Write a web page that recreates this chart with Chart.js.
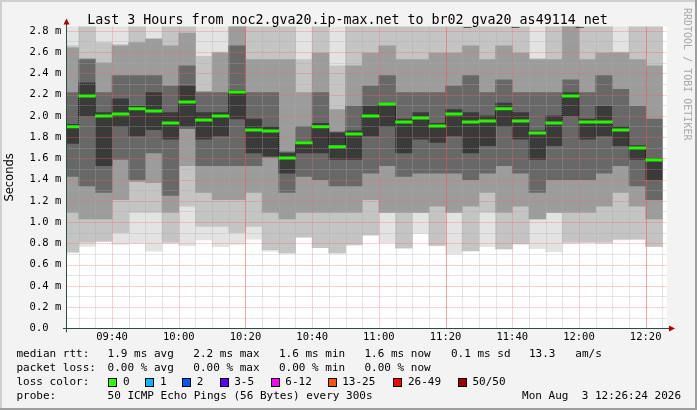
<!DOCTYPE html>
<html>
<head>
<meta charset="utf-8">
<script src="https://cdn.jsdelivr.net/npm/chart.js@4.4.1/dist/chart.umd.min.js"></script>
<style>
  html, body { margin: 0; padding: 0; background: #f3f3f3; }
  #wrap { width: 697px; height: 410px; }
</style>
</head>
<body>
<div id="wrap"><canvas id="smokeChart" width="697" height="410"></canvas></div>
<script>
// end time of each 5 minute step (300s)
const times = ['09:30','09:35','09:40','09:45','09:50','09:55','10:00','10:05','10:10','10:15','10:20','10:25',
               '10:30','10:35','10:40','10:45','10:50','10:55','11:00','11:05','11:10','11:15','11:20','11:25',
               '11:30','11:35','11:40','11:45','11:50','11:55','12:00','12:05','12:10','12:15','12:20','12:25'];

// median rtt per step (ms)
const median = [1.897, 2.186, 1.998, 2.017, 2.067, 2.045, 1.932, 2.130, 1.960, 1.998, 2.224, 1.866,
                1.857, 1.603, 1.747, 1.897, 1.709, 1.829, 1.998, 2.111, 1.942, 1.980, 1.904, 2.017,
                1.942, 1.951, 2.067, 1.951, 1.838, 1.932, 2.186, 1.942, 1.942, 1.866, 1.697, 1.584];

// smoke: spread of the 50 pings, outer to inner (ms)
const minRtt = [0.71, 0.77, 0.815, 0.79, 0.80, 0.727, 0.80, 0.777, 0.831, 0.768, 0.79, 0.84,
                0.727, 0.706, 0.853, 0.759, 0.706, 0.781, 0.875, 0.806, 0.75, 0.894, 0.775, 0.70,
                0.727, 0.768, 0.743, 0.79, 0.75, 0.718, 0.80, 0.806, 0.80, 0.831, 0.837, 0.768];
const maxRtt = [3.2, 3.2, 3.2, 3.2, 3.2, 3.2, 3.2, 3.2, 3.2, 3.2, 3.2, 3.2,
                3.2, 3.2, 3.2, 3.2, 3.2, 3.2, 3.2, 3.2, 3.2, 3.2, 3.2, 3.2,
                3.2, 3.2, 3.2, 3.2, 3.2, 3.2, 3.2, 3.2, 3.2, 3.2, 3.2, 3.2];
const loB = [0.72, 0.81, 0.82, 0.90, 1.09, 1.09, 0.81, 1.15, 0.96, 0.96, 0.90, 0.96,
             0.74, 0.71, 0.86, 0.76, 0.71, 0.79, 0.88, 1.09, 0.76, 1.09, 0.78, 1.09,
             0.73, 1.09, 0.75, 0.80, 1.03, 1.09, 0.81, 0.81, 0.81, 0.84, 0.84, 0.77];
const hiB = [2.66, 3.0, 2.69, 2.67, 3.0, 2.73, 3.0, 3.0, 2.56, 2.60, 3.0, 3.0,
             3.0, 3.0, 2.53, 3.0, 2.47, 3.0, 3.0, 3.0, 3.0, 3.0, 3.0, 3.0,
             3.0, 3.0, 3.0, 3.0, 2.54, 3.0, 3.0, 3.0, 3.0, 2.60, 3.0, 3.0];
const loC = [1.09, 1.03, 1.03, 1.21, 1.38, 1.37, 1.09, 1.53, 1.28, 1.21, 1.21, 1.28,
             1.09, 1.03, 1.09, 1.09, 1.09, 1.09, 1.21, 1.09, 1.09, 1.09, 1.15, 1.09,
             1.15, 1.28, 1.09, 1.15, 1.03, 1.09, 1.09, 1.09, 1.15, 1.28, 1.15, 1.03];
const hiC = [2.64, 2.54, 2.50, 2.66, 2.69, 2.72, 2.66, 2.78, 2.23, 2.59, 3.0, 2.53,
             2.53, 2.53, 2.22, 2.59, 2.06, 2.47, 2.59, 2.66, 2.53, 2.53, 2.59, 2.59,
             2.66, 2.53, 2.66, 2.59, 2.53, 2.53, 3.0, 2.53, 2.59, 2.59, 2.53, 2.47];
const loD = [1.43, 1.34, 1.28, 1.59, 1.40, 1.65, 1.25, 1.88, 1.53, 1.53, 1.53, 1.53,
             1.61, 1.28, 1.43, 1.40, 1.34, 1.34, 1.46, 1.53, 1.43, 1.46, 1.46, 1.46,
             1.40, 1.46, 1.53, 1.46, 1.28, 1.40, 1.40, 1.40, 1.46, 1.53, 1.34, 1.21];
const hiD = [2.22, 2.53, 2.22, 2.38, 2.38, 2.38, 2.28, 2.47, 2.22, 2.22, 2.66, 2.22,
             2.22, 1.66, 1.90, 2.22, 1.85, 2.09, 2.28, 2.38, 2.22, 2.22, 2.22, 2.28,
             2.38, 2.22, 2.34, 2.22, 2.22, 2.22, 2.34, 2.22, 2.38, 2.25, 2.09, 1.97];
const loF = [1.74, 2.00, 1.53, 1.90, 1.81, 1.87, 1.78, 1.90, 1.78, 1.81, 1.97, 1.65,
             1.62, 1.46, 1.65, 1.65, 1.59, 1.59, 1.81, 1.90, 1.65, 1.78, 1.75, 1.81,
             1.65, 1.72, 1.90, 1.78, 1.59, 1.72, 2.00, 1.78, 1.81, 1.72, 1.59, 1.40];
const hiF = [1.92, 2.31, 2.03, 2.16, 2.09, 2.22, 2.03, 2.28, 2.03, 2.03, 2.24, 1.97,
             1.90, 1.65, 1.76, 1.93, 1.84, 1.86, 2.09, 2.12, 1.97, 2.03, 1.93, 2.06,
             2.03, 2.00, 2.12, 2.03, 1.86, 2.00, 2.22, 1.97, 2.09, 1.90, 1.72, 1.60];

// axes
const rangeStart = '09:26:24';
const rangeEnd = '12:26:24';
const xTickLabels = ['09:40','10:00','10:20','10:40','11:00','11:20','11:40','12:00','12:20'];
const hourRules = ['10:20','11:20','12:20'];
const yTickValues = [0, 0.2, 0.4, 0.6, 0.8, 1.0, 1.2, 1.4, 1.6, 1.8, 2.0, 2.2, 2.4, 2.6, 2.8];
const yTickLabels = ['0.0  ','0.2 m','0.4 m','0.6 m','0.8 m','1.0 m','1.2 m','1.4 m','1.6 m','1.8 m',
                     '2.0 m','2.2 m','2.4 m','2.6 m','2.8 m'];

// legend texts
const titleText = 'Last 3 Hours from noc2.gva20.ip-max.net to br02_gva20_as49114_net';
const rttStats = ['1.9 ms avg', '2.2 ms max', '1.6 ms min', '1.6 ms now', '0.1 ms sd', '13.3   am/s'];
const lossStats = ['0.00 % avg', '0.00 % max', '0.00 % min', '0.00 % now'];
const lossLabels = ['0', '1', '2', '3-5', '6-12', '13-25', '26-49', '50/50'];
const lossColors = ['#26ff00', '#00b8ff', '#0059ff', '#5e00ff', '#ff00ff', '#ff5500', '#ff0000', '#a10000'];
const probeText = '50 ICMP Echo Pings (56 Bytes) every 300s';
const stampText = 'Mon Aug  3 12:26:24 2026';

const MONO = '"DejaVu Sans Mono", monospace';

// minutes after 09:00
const toMin = s => {
    const p = s.split(':').map(Number);
    return (p[0] - 9) * 60 + p[1] + (p[2] || 0) / 60;
};
const centers = times.map(t => toMin(t) - 2.5);

// smoke bands, widest (lightest) first
const bands = [
    { lo: minRtt, hi: maxRtt, color: '#e3e3e3' },
    { lo: loB, hi: hiB, color: '#c4c4c4' },
    { lo: loC, hi: hiC, color: '#9c9c9c' },
    { lo: loD, hi: hiD, color: '#686868' },
    { lo: loF, hi: hiF, color: '#3a3a3a' }
];

const datasets = bands.map((b, i) => ({
    type: 'bar',
    data: centers.map((x, k) => ({ x: x, y: [b.lo[k], b.hi[k]] })),
    backgroundColor: b.color,
    borderWidth: 0,
    grouped: false,
    barPercentage: 1,
    categoryPercentage: 1,
    order: 10 - i
}));

// dotted step connecting the medians
datasets.push({
    type: 'line',
    data: centers.map((x, k) => ({ x: x, y: median[k] })),
    stepped: 'middle',
    borderColor: '#111',
    borderWidth: 1,
    borderDash: [1, 1],
    pointRadius: 0,
    order: 1
});
const CONNECTOR = datasets.length - 1;

// green median segments
datasets.push({
    type: 'bar',
    data: centers.map((x, k) => ({ x: x, y: [median[k] - 0.011, median[k] + 0.011] })),
    backgroundColor: '#26f500',
    borderWidth: 0,
    grouped: false,
    barPercentage: 1,
    categoryPercentage: 1,
    order: 0
});

// background, frame and white canvas
const framePlugin = {
    id: 'frame',
    beforeDraw(chart) {
        const { ctx, chartArea: a } = chart;
        ctx.save();
        ctx.fillStyle = '#f3f3f3';
        ctx.fillRect(0, 0, 697, 410);
        ctx.fillStyle = '#cfcfcf';
        ctx.fillRect(0, 0, 697, 2);
        ctx.fillRect(0, 0, 2, 410);
        ctx.fillStyle = '#9e9e9e';
        ctx.fillRect(0, 408, 697, 2);
        ctx.fillRect(695, 0, 2, 410);
        ctx.fillStyle = '#ffffff';
        ctx.fillRect(a.left, a.top, a.right - a.left, a.bottom - a.top);
        ctx.restore();
    }
};

// grid goes over the smoke but under the median
const gridPlugin = {
    id: 'smokeGrid',
    beforeDatasetDraw(chart, args) {
        if (args.index !== CONNECTOR) return;
        const { ctx, chartArea: a, scales: { x, y } } = chart;
        ctx.save();
        ctx.beginPath();
        ctx.rect(a.left, a.top, a.right - a.left, a.bottom - a.top);
        ctx.clip();
        ctx.lineWidth = 1;
        ctx.setLineDash([1, 1]);
        const hLine = (v, color) => {
            const py = Math.round(y.getPixelForValue(v)) + 0.5;
            ctx.strokeStyle = color;
            ctx.beginPath(); ctx.moveTo(a.left, py); ctx.lineTo(a.right, py); ctx.stroke();
        };
        const vLine = (m, color) => {
            const px = Math.round(x.getPixelForValue(m)) + 0.5;
            ctx.strokeStyle = color;
            ctx.beginPath(); ctx.moveTo(px, a.top); ctx.lineTo(px, a.bottom); ctx.stroke();
        };
        for (let k = 1; k <= 28; k += 2) hLine(k / 10, 'rgba(170,170,170,0.6)');
        for (let k = 2; k <= 28; k += 2) hLine(k / 10, 'rgba(255,100,100,0.6)');
        const majors = xTickLabels.map(toMin);
        for (let m = 30; m < 210; m += 5) {
            if (!majors.includes(m)) vLine(m, 'rgba(170,170,170,0.6)');
        }
        majors.forEach(m => vLine(m, 'rgba(255,100,100,0.6)'));
        ctx.setLineDash([]);
        hourRules.forEach(h => vLine(toMin(h), 'rgba(255,60,60,0.3)'));
        ctx.restore();
    }
};

// title, axis lines, arrows, legend and watermark
const textPlugin = {
    id: 'rrdText',
    afterDraw(chart) {
        const { ctx, chartArea: a } = chart;
        ctx.save();
        ctx.fillStyle = '#000';
        ctx.font = '13.3px ' + MONO;
        ctx.textAlign = 'center';
        ctx.textBaseline = 'alphabetic';
        ctx.fillText(titleText, 347.5, 23.5);

        ctx.fillStyle = '#2c4d43';
        ctx.fillRect(Math.round(a.left) - 1, a.top - 3, 1, a.bottom - a.top + 7);
        ctx.fillRect(Math.round(a.left) - 4, Math.round(a.bottom), a.right - a.left + 8, 1);
        ctx.fillStyle = '#b00000';
        const ax = Math.round(a.left) - 0.5;
        ctx.beginPath(); ctx.moveTo(ax - 3, a.top - 2); ctx.lineTo(ax + 3, a.top - 2); ctx.lineTo(ax, a.top - 8); ctx.closePath(); ctx.fill();
        const ay = Math.round(a.bottom) + 0.5;
        ctx.beginPath(); ctx.moveTo(a.right + 2, ay - 3); ctx.lineTo(a.right + 2, ay + 3); ctx.lineTo(a.right + 8, ay); ctx.closePath(); ctx.fill();

        ctx.fillStyle = '#000';
        ctx.font = '11px ' + MONO;
        ctx.textBaseline = 'middle';
        ctx.textAlign = 'left';
        const rows = [354.3, 368.3, 382.3, 396.3];
        const cols = [107.6, 193.3, 279, 364.4, 451, 529];
        ctx.fillText('median rtt:', 16.4, rows[0]);
        rttStats.forEach((s, i) => ctx.fillText(s, cols[i], rows[0]));
        ctx.fillText('packet loss:', 16.4, rows[1]);
        lossStats.forEach((s, i) => ctx.fillText(s, cols[i], rows[1]));
        ctx.fillText('loss color:', 16.4, rows[2]);
        const boxX = [108.4, 145.3, 182.2, 219.6, 270.7, 327.6, 393.3, 457.8];
        lossLabels.forEach((l, i) => {
            const bx = Math.round(boxX[i]);
            ctx.fillStyle = lossColors[i];
            ctx.fillRect(bx, 378, 8, 8);
            ctx.strokeStyle = '#000';
            ctx.lineWidth = 1;
            ctx.strokeRect(bx + 0.5, 378.5, 8, 8);
            ctx.fillStyle = '#000';
            ctx.fillText(l, boxX[i] + 14.6, rows[2]);
        });
        ctx.fillText('probe:', 16.4, rows[3]);
        ctx.fillText(probeText, 107.6, rows[3]);
        ctx.textAlign = 'right';
        ctx.fillText(stampText, 681, rows[3]);

        // watermark
        ctx.translate(684, 8);
        ctx.rotate(Math.PI / 2);
        ctx.textAlign = 'left';
        ctx.textBaseline = 'alphabetic';
        ctx.fillStyle = '#a8a8a8';
        ctx.font = '10px ' + MONO;
        ctx.fillText('RRDTOOL / TOBI OETIKER', 0, 0);
        ctx.restore();
    }
};

new Chart(document.getElementById('smokeChart'), {
    type: 'bar',
    data: { datasets: datasets },
    options: {
        responsive: false,
        animation: false,
        events: [],
        layout: { padding: { left: 0, right: 30, top: 26.6, bottom: 0 } },
        plugins: {
            legend: { display: false },
            tooltip: { enabled: false },
            title: { display: false }
        },
        scales: {
            x: {
                type: 'linear',
                min: toMin(rangeStart),
                max: toMin(rangeEnd),
                offset: false,
                grid: { display: false, drawTicks: false },
                border: { display: false },
                ticks: {
                    color: '#000',
                    font: { family: MONO, size: 10.5 },
                    padding: 3,
                    maxRotation: 0,
                    autoSkip: false,
                    callback: (v, i) => xTickLabels[i]
                },
                afterBuildTicks: s => { s.ticks = xTickLabels.map(l => ({ value: toMin(l) })); },
                afterFit: s => { s.height = 81.7; }
            },
            y: {
                min: 0,
                max: 2.84,
                grid: { display: false, drawTicks: false },
                border: { display: false },
                ticks: {
                    color: '#000',
                    font: { family: MONO, size: 10.5 },
                    padding: 5.5,
                    autoSkip: false,
                    callback: (v, i) => yTickLabels[i]
                },
                title: {
                    display: true,
                    text: 'Seconds',
                    color: '#000',
                    font: { family: '"DejaVu Sans", sans-serif', size: 11.5 },
                    padding: { top: 3.6, bottom: 0 }
                },
                afterBuildTicks: s => { s.ticks = yTickValues.map(v => ({ value: v })); },
                afterFit: s => { s.width = 66.7; }
            }
        }
    },
    plugins: [framePlugin, gridPlugin, textPlugin]
});
</script>
</body>
</html>
